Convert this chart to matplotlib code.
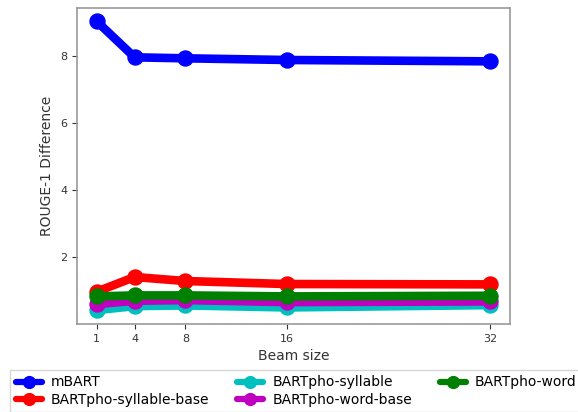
import matplotlib

matplotlib.use("Agg")
import matplotlib.pyplot as plt

beam_sizes = [1, 4, 8, 16, 32]
mbart = [9.05, 7.97, 7.94, 7.89, 7.85]
syllable_base = [0.96, 1.40, 1.28, 1.19, 1.18]
syllable = [0.41, 0.53, 0.55, 0.49, 0.56]
word_base = [0.59, 0.69, 0.71, 0.65, 0.67]
word = [0.82, 0.85, 0.85, 0.82, 0.84]

series = [
    ("mBART", mbart, "b"),
    ("BARTpho-syllable-base", syllable_base, "r"),
    ("BARTpho-syllable", syllable, "c"),
    ("BARTpho-word-base", word_base, "m"),
    ("BARTpho-word", word, "g"),
]

fig = plt.figure(figsize=(5.78, 4.12), dpi=100)
ax = fig.add_axes([0.133, 0.214, 0.749, 0.767])

for name, vals, color in series:
    ax.plot(beam_sizes, vals, color=color, marker="o", linewidth=6.2,
            markersize=10.8, solid_capstyle="round", label=name)

ax.set_xticks(beam_sizes)
ax.set_yticks([2, 4, 6, 8])
ax.set_ylim(0.0, 9.45)
ax.set_xlabel("Beam size", fontsize=10, color="#333333")
ax.set_ylabel("ROUGE-1 Difference", fontsize=10, color="#333333")
ax.tick_params(labelsize=8, colors="#333333")
for spine in ax.spines.values():
    spine.set_color("#999999")
    spine.set_linewidth(1.2)

leg = fig.legend(
    loc="upper left",
    bbox_to_anchor=(0.006, 0.119),
    ncol=3,
    fontsize=10,
    handlelength=1.87,
    handletextpad=0.65,
    columnspacing=2.0,
    labelspacing=0.25,
    edgecolor="#cccccc",
    fancybox=False,
)
# legend handles are drawn a bit slimmer than the plotted lines
for handle in leg.get_lines():
    handle.set_linewidth(4.5)
    handle.set_markersize(8.5)

fig.savefig("out.png", dpi=100)
